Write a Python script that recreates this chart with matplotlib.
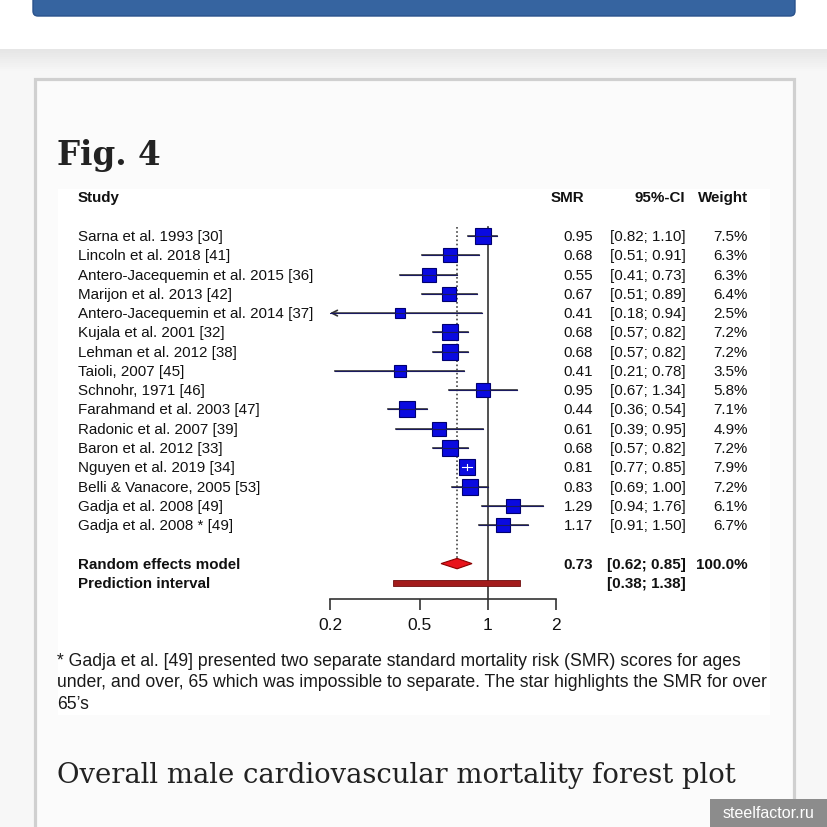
import matplotlib
matplotlib.use("Agg")

import numpy as np
import matplotlib.pyplot as plt
from matplotlib.patches import Rectangle, FancyBboxPatch, Polygon
from matplotlib.transforms import blended_transform_factory
from matplotlib.ticker import NullLocator

plt.rcParams["font.family"] = ["Liberation Sans", "DejaVu Sans"]

# ---- data ----
studies = [
    "Sarna et al. 1993 [30]",
    "Lincoln et al. 2018 [41]",
    "Antero-Jacequemin et al. 2015 [36]",
    "Marijon et al. 2013 [42]",
    "Antero-Jacequemin et al. 2014 [37]",
    "Kujala et al. 2001 [32]",
    "Lehman et al. 2012 [38]",
    "Taioli, 2007 [45]",
    "Schnohr, 1971 [46]",
    "Farahmand et al. 2003 [47]",
    "Radonic et al. 2007 [39]",
    "Baron et al. 2012 [33]",
    "Nguyen et al. 2019 [34]",
    "Belli & Vanacore, 2005 [53]",
    "Gadja et al. 2008 [49]",
    "Gadja et al. 2008 * [49]",
]
smr = [0.95, 0.68, 0.55, 0.67, 0.41, 0.68, 0.68, 0.41, 0.95, 0.44, 0.61, 0.68, 0.81, 0.83, 1.29, 1.17]
ci_low = [0.82, 0.51, 0.41, 0.51, 0.18, 0.57, 0.57, 0.21, 0.67, 0.36, 0.39, 0.57, 0.77, 0.69, 0.94, 0.91]
ci_high = [1.10, 0.91, 0.73, 0.89, 0.94, 0.82, 0.82, 0.78, 1.34, 0.54, 0.95, 0.82, 0.85, 1.00, 1.76, 1.50]
weights = [7.5, 6.3, 6.3, 6.4, 2.5, 7.2, 7.2, 3.5, 5.8, 7.1, 4.9, 7.2, 7.9, 7.2, 6.1, 6.7]

pooled = (0.73, 0.62, 0.85)
pred_int = (0.38, 1.38)
xticks = [0.2, 0.5, 1, 2]
xtick_labels = ["0.2", "0.5", "1", "2"]

note_lines = [
    "* Gadja et al. [49] presented two separate standard mortality risk (SMR) scores for ages",
    "under, and over, 65 which was impossible to separate. The star highlights the SMR for over",
    "65\u2019s",
]
caption = "Overall male cardiovascular mortality forest plot"

# ---- page layout helpers (pixels) ----
W = H = 828
fig = plt.figure(figsize=(W / 100, H / 100), dpi=100)
fig.patch.set_facecolor("#f7f7f7")


def fx(x):
    return x / W


def fy(y):
    return 1 - y / H


def box(x0, y0, x1, y1, **kw):
    r = Rectangle((fx(x0), fy(y1)), (x1 - x0) / W, (y1 - y0) / H,
                  transform=fig.transFigure, zorder=-10, **kw)
    fig.add_artist(r)
    return r


# white header + shadow
box(0, 0, W, 50, fc="white", ec="none")
shade = np.linspace(0, 1, 12)
for i, t in enumerate(shade):
    c = 0.90 + 0.07 * t
    box(0, 50 + i * 2, W, 52 + i * 2, fc=(c, c, c), ec="none")
bar = FancyBboxPatch((fx(33), fy(17)), (795 - 33) / W, 30 / H,
                     boxstyle="round,pad=0,rounding_size=0.006",
                     transform=fig.transFigure, fc="#3664a0", ec="#2a528c", lw=1,
                     zorder=-5)
fig.add_artist(bar)

# article box
box(35, 80, 794, 900, fc="#fbfbfb", ec="#d0d0d0", lw=2.3)
box(58, 190, 770, 716, fc="white", ec="none")

fig.text(fx(57), fy(165), "Fig. 4", family="DejaVu Serif", weight="bold",
         fontsize=23.5, color="#222222", va="baseline")

# ---- forest axes ----
ROW0, STEP = 237, 19.27
y_top = (190 - ROW0) / STEP
y_bot = (600 - ROW0) / STEP
ax = fig.add_axes([fx(330), fy(600), 226 / W, 410 / H])
ax.set_xscale("log")
ax.set_xlim(0.2, 2)
ax.set_ylim(y_bot, y_top)
ax.set_facecolor("none")
for s in ["top", "left", "right"]:
    ax.spines[s].set_visible(False)
ax.spines["bottom"].set_color("#333333")
ax.spines["bottom"].set_linewidth(1.2)
ax.set_xticks(xticks)
ax.set_xticklabels(xtick_labels)
ax.xaxis.set_minor_locator(NullLocator())
ax.set_yticks([])
ax.tick_params(axis="x", length=8, width=1.2, color="#333333",
               labelsize=12.5, pad=5, labelcolor="#111111")

fs = 10.9
px_per_dec = 226 / (np.log10(2) - np.log10(0.2))

# reference lines
ax.plot([1, 1], [-0.47, y_bot], color="#333333", lw=1.2, clip_on=False, zorder=1)
ax.plot([pooled[0]] * 2, [-0.47, 17], color="#444444", lw=1.2, ls=(0, (1, 1.5)),
        clip_on=False, zorder=1)

trans = blended_transform_factory(fig.transFigure, ax.transData)
X_NAME, X_SMR, X_CI, X_W = 78, 593, 686, 748

for i, name in enumerate(studies):
    y = i
    lo = max(ci_low[i], 0.2)
    side = 11.3 * (weights[i] / 7.9) ** 0.38
    if ci_low[i] < 0.2:
        ax.annotate("", xy=(0.2, y), xytext=(ci_high[i], y),
                    arrowprops=dict(arrowstyle="->", color="#333333", lw=1.2,
                                    shrinkA=0, shrinkB=0), zorder=2)
    else:
        ax.plot([lo, ci_high[i]], [y, y], color="#333333", lw=1.2, zorder=2)
    ax.plot(smr[i], y, marker="s", ms=side, mfc="#0a0ae0", mec="#000070",
            mew=0.8, zorder=3)
    ci_px = (np.log10(ci_high[i]) - np.log10(lo)) * px_per_dec
    inner = "white" if ci_px < side * 1.389 else "#1a1a60"
    ax.plot([lo, ci_high[i]], [y, y], color=inner, lw=0.8, zorder=4)
    if inner == "white":
        ax.plot([smr[i]] * 2, [y - 0.15, y + 0.15], color="white", lw=0.8, zorder=4)

    fig_txt = dict(transform=trans, fontsize=fs, va="center", color="#111111")
    fig.text(fx(X_NAME), y, name, ha="left", **fig_txt)
    fig.text(fx(X_SMR), y, f"{smr[i]:.2f}", ha="right", **fig_txt)
    fig.text(fx(X_CI), y, f"[{ci_low[i]:.2f}; {ci_high[i]:.2f}]", ha="right", **fig_txt)
    fig.text(fx(X_W), y, f"{weights[i]:.1f}%", ha="right", **fig_txt)

# headers
hdr = dict(transform=trans, fontsize=fs, va="center", weight="bold", color="#111111")
fig.text(fx(X_NAME), -2, "Study", ha="left", **hdr)
fig.text(fx(584), -2, "SMR", ha="right", **hdr)
fig.text(fx(685), -2, "95%-CI", ha="right", **hdr)
fig.text(fx(X_W), -2, "Weight", ha="right", **hdr)

# pooled estimate diamond
yp = 17
m, l, u = pooled
dia = Polygon([(l, yp), (m, yp - 0.27), (u, yp), (m, yp + 0.27)], closed=True,
              fc="#e8141c", ec="#8b0000", lw=0.8, zorder=3)
ax.add_patch(dia)
fig.text(fx(X_NAME), yp, "Random effects model", ha="left", **hdr)
fig.text(fx(X_SMR), yp, f"{m:.2f}", ha="right", **hdr)
fig.text(fx(X_CI), yp, f"[{l:.2f}; {u:.2f}]", ha="right", **hdr)
fig.text(fx(X_W), yp, "100.0%", ha="right", **hdr)

# prediction interval
yq = 18
pl, pu = pred_int
ax.fill([pl, pu, pu, pl], [yq - 0.14, yq - 0.14, yq + 0.14, yq + 0.14],
        fc="#a31c1c", ec="#6e0f0f", lw=0.6, zorder=3, clip_on=False)
fig.text(fx(X_NAME), yq, "Prediction interval", ha="left", **hdr)
fig.text(fx(X_CI), yq, f"[{pl:.2f}; {pu:.2f}]", ha="right", **hdr)

# footnote
for k, line in enumerate(note_lines):
    fig.text(fx(57), fy(666 + 21.5 * k), line, fontsize=12.7, color="#1a1a1a",
             va="baseline", ha="left")

fig.text(fx(57), fy(783), caption, family="DejaVu Serif", fontsize=19.8,
         color="#222222", va="baseline", ha="left")

# watermark
box(710, 800, W, H, fc="#8c8c8c", ec="none")
fig.text(fx(769), fy(814), "steelfactor.ru", color="white", fontsize=11.5,
         ha="center", va="center")

fig.savefig("out.png", dpi=100, facecolor=fig.get_facecolor())
